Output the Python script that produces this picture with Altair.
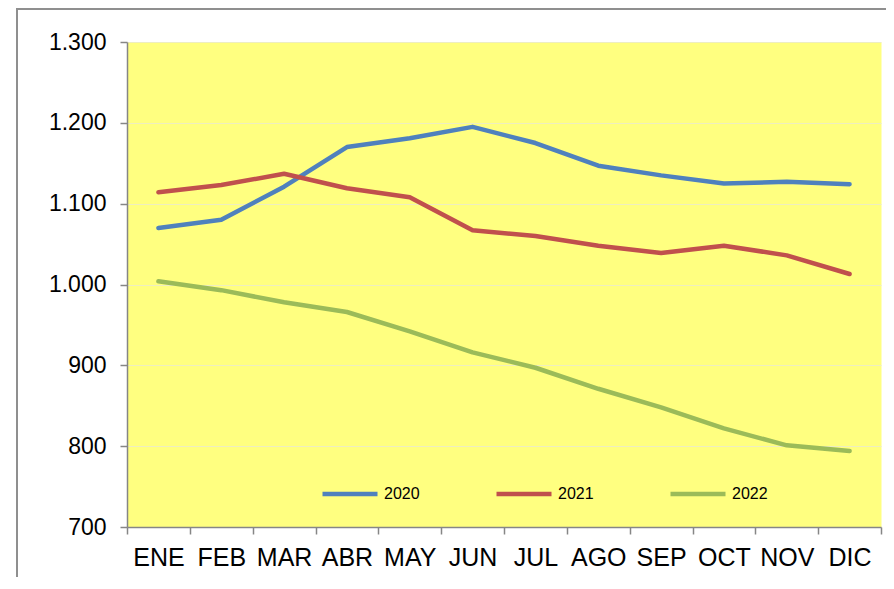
import altair as alt
import pandas as pd

months = ["ENE", "FEB", "MAR", "ABR", "MAY", "JUN", "JUL", "AGO", "SEP", "OCT", "NOV", "DIC"]
s2020 = [1070, 1080, 1121, 1170, 1181, 1195, 1175, 1147, 1135, 1125, 1127, 1124]
s2021 = [1114, 1123, 1137, 1119, 1108, 1067, 1060, 1048, 1039, 1048, 1036, 1013]
s2022 = [1004, 993, 978, 966, 942, 916, 897, 871, 848, 822, 801, 794]
years = ["2020", "2021", "2022"]
colors = ["#4F81BD", "#C0504D", "#9BBB59"]
y_ticks = [700, 800, 900, 1000, 1100, 1200, 1300]

rows = []
for yr, series in zip(years, [s2020, s2021, s2022]):
    for m, v in zip(months, series):
        rows.append({"mes": m, "valor": v, "serie": yr})
df = pd.DataFrame(rows)

FONT = "Liberation Sans"

lines = alt.Chart(df).mark_line(strokeWidth=4.5, strokeCap="round", strokeJoin="round").encode(
    x=alt.X("mes:N", sort=months, bandPosition=0.5,
            scale=alt.Scale(type="band", paddingInner=0, paddingOuter=0),
            axis=alt.Axis(title=None, labelAngle=0, labelFontSize=25, labelPadding=11,
                          tickBand="extent", grid=False, labelColor="#000000",
                          labelFont=FONT)),
    y=alt.Y("valor:Q",
            scale=alt.Scale(domain=[700, 1300], nice=False, zero=False),
            axis=alt.Axis(title=None, values=y_ticks, labelFontSize=23, labelPadding=14,
                          labelColor="#000000", labelFont=FONT, grid=True,
                          gridColor="#eeeec0", gridWidth=1,
                          labelExpr="replace(format(datum.value, ','), ',', '.')")),
    color=alt.Color("serie:N", scale=alt.Scale(domain=years, range=colors),
                    legend=alt.Legend(title=None, orient="none", legendX=193, legendY=422,
                                      direction="horizontal", columns=3, columnPadding=67,
                                      symbolType="stroke", symbolSize=3025,
                                      symbolStrokeWidth=4.5, labelFontSize=16,
                                      labelOffset=4, labelFont=FONT, labelColor="#000000",
                                      padding=0)),
)

border = alt.Chart(alt.Data(values=[{}])).mark_rect(
    fillOpacity=0, stroke="#8f8f8f", strokeWidth=2
).encode(
    x=alt.value(-110), x2=alt.value(780), y=alt.value(-33), y2=alt.value(580)
)

chart = alt.layer(lines, border).properties(
    width=754, height=485,
    autosize=alt.AutoSizeParams(type="none"),
    padding={"left": 119, "top": 34, "right": 5, "bottom": 50},
).configure_view(
    fill="#FFFF80", stroke="transparent"
).configure_axis(
    domainColor="#868686", domainWidth=1.5, tickColor="#868686", tickWidth=1.5, tickSize=7
)

chart.save("out.html", embed_options={"renderer": "svg", "actions": False})
